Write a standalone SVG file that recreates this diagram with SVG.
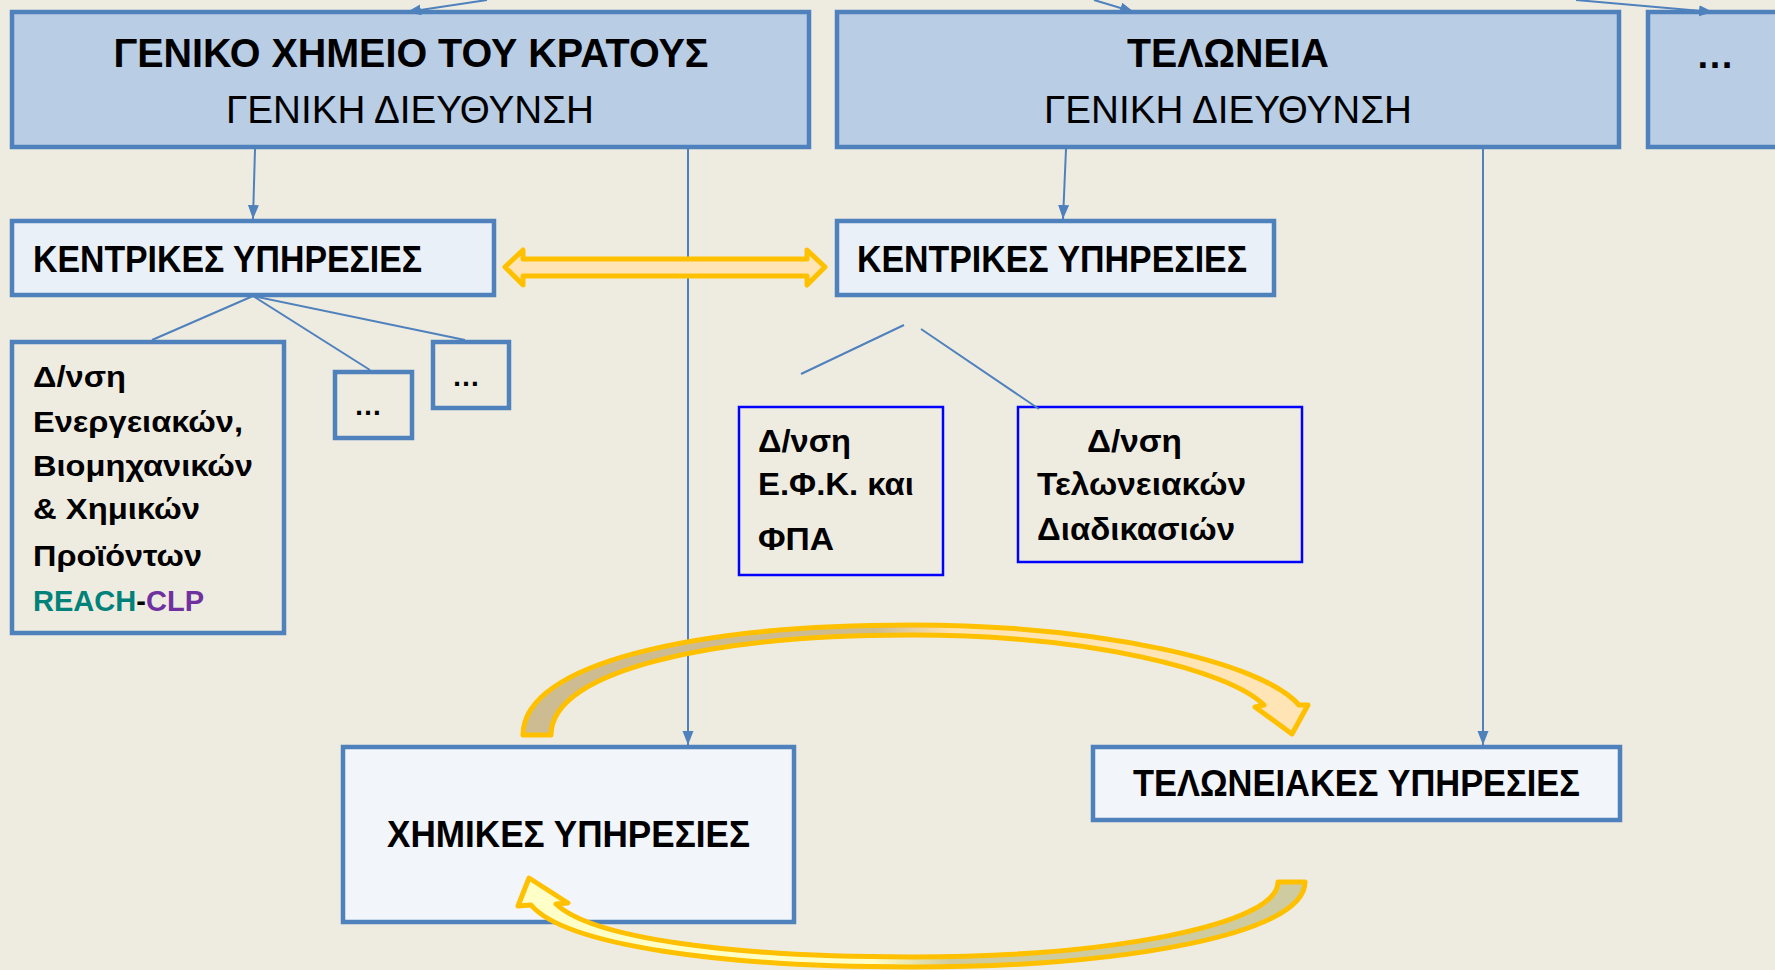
<svg xmlns="http://www.w3.org/2000/svg" width="1775" height="970" viewBox="0 0 1775 970">
<defs>
<style>
.bg{fill:#EEECE1}
.top{fill:#B9CDE5;stroke:#4F81BD;stroke-width:4.5}
.kent{fill:#EAF0F8;stroke:#4F81BD;stroke-width:4.5}
.plain{fill:#EEECE1;stroke:#4F81BD;stroke-width:4.5}
.sub{fill:#EEECE1;stroke:#0000FF;stroke-width:2.5}
.svc{fill:#F2F5FA;stroke:#4F81BD;stroke-width:4.5}
.t{font-family:"Liberation Sans",Arial,sans-serif;fill:#000}
.b{font-weight:bold}
.con{stroke:#4F81BD;stroke-width:2;fill:none}
.ya{stroke:#FFC000;stroke-width:5;stroke-linejoin:round}
</style>
<marker id="ah" markerUnits="userSpaceOnUse" markerWidth="15" markerHeight="12" refX="14" refY="5.5" orient="auto">
<path d="M0,0 L14,5.5 L0,11 z" fill="#4F81BD"/>
</marker>
<linearGradient id="gTop" x1="523" y1="0" x2="1308" y2="0" gradientUnits="userSpaceOnUse">
<stop offset="0" stop-color="#CDBB92"/>
<stop offset="0.45" stop-color="#CDBB92"/>
<stop offset="0.55" stop-color="#FFE4B5"/>
<stop offset="1" stop-color="#FFE4B5"/>
</linearGradient>
<linearGradient id="gBot" x1="518" y1="0" x2="1305" y2="0" gradientUnits="userSpaceOnUse">
<stop offset="0" stop-color="#FFFFC8"/>
<stop offset="0.45" stop-color="#FFFFC8"/>
<stop offset="0.55" stop-color="#CFCBA0"/>
<stop offset="1" stop-color="#CFCBA0"/>
</linearGradient>
</defs>
<rect class="bg" x="0" y="0" width="1775" height="970"/>

<g id="node-gxk">
<rect class="top" x="12" y="12" width="797" height="135"/>
<text class="t b" x="411" y="67" font-size="41" text-anchor="middle" textLength="595" lengthAdjust="spacingAndGlyphs">ΓΕΝΙΚΟ ΧΗΜΕΙΟ ΤΟΥ ΚΡΑΤΟΥΣ</text>
<text class="t" x="410" y="123" font-size="39" text-anchor="middle" textLength="368" lengthAdjust="spacingAndGlyphs">ΓΕΝΙΚΗ ΔΙΕΥΘΥΝΣΗ</text>
</g>
<g id="node-telonia">
<rect class="top" x="837" y="12" width="782" height="135"/>
<text class="t b" x="1228" y="67" font-size="41" text-anchor="middle" textLength="202" lengthAdjust="spacingAndGlyphs">ΤΕΛΩΝΕΙΑ</text>
<text class="t" x="1228" y="123" font-size="39" text-anchor="middle" textLength="368" lengthAdjust="spacingAndGlyphs">ΓΕΝΙΚΗ ΔΙΕΥΘΥΝΣΗ</text>
</g>
<g id="node-other">
<rect class="top" x="1648" y="12" width="140" height="135"/>
<text class="t b" x="1715" y="68" font-size="38" text-anchor="middle">…</text>
</g>
<g id="node-kent1">
<rect class="kent" x="12" y="221" width="482" height="74"/>
<text class="t b" x="33" y="272" font-size="36" textLength="389" lengthAdjust="spacingAndGlyphs">ΚΕΝΤΡΙΚΕΣ ΥΠΗΡΕΣΙΕΣ</text>
</g>
<g id="node-kent2">
<rect class="kent" x="837" y="221" width="437" height="74"/>
<text class="t b" x="857" y="272" font-size="36" textLength="390" lengthAdjust="spacingAndGlyphs">ΚΕΝΤΡΙΚΕΣ ΥΠΗΡΕΣΙΕΣ</text>
</g>
<g id="node-energy">
<rect class="plain" x="12" y="342" width="272" height="291"/>
<text class="t b" font-size="29" x="33" y="387" textLength="93" lengthAdjust="spacingAndGlyphs">Δ/νση</text>
<text class="t b" font-size="29" x="33" y="432" textLength="210" lengthAdjust="spacingAndGlyphs">Ενεργειακών,</text>
<text class="t b" font-size="29" x="33" y="476" textLength="220" lengthAdjust="spacingAndGlyphs">Βιομηχανικών</text>
<text class="t b" font-size="29" x="33" y="519" textLength="167" lengthAdjust="spacingAndGlyphs">&amp; Χημικών</text>
<text class="t b" font-size="29" x="33" y="566" textLength="169" lengthAdjust="spacingAndGlyphs">Προϊόντων</text>
<text class="t b" font-size="29" x="33" y="611" textLength="171" lengthAdjust="spacingAndGlyphs"><tspan fill="#00827A">REACH</tspan><tspan fill="#000">-</tspan><tspan fill="#7030A0">CLP</tspan></text>
</g>
<g id="node-dots1">
<rect class="plain" x="335" y="372" width="77" height="66"/>
<text class="t b" x="368" y="415" font-size="28" text-anchor="middle">…</text>
</g>
<g id="node-dots2">
<rect class="plain" x="433" y="342" width="76" height="66"/>
<text class="t b" x="466" y="386" font-size="28" text-anchor="middle">…</text>
</g>
<g id="node-efk">
<rect class="sub" x="739" y="407" width="204" height="168"/>
<text class="t b" font-size="32" x="758" y="452" textLength="93" lengthAdjust="spacingAndGlyphs">Δ/νση</text>
<text class="t b" font-size="32" x="758" y="495" textLength="156" lengthAdjust="spacingAndGlyphs">Ε.Φ.Κ. και</text>
<text class="t b" font-size="32" x="758" y="550" textLength="76" lengthAdjust="spacingAndGlyphs">ΦΠΑ</text>
</g>
<g id="node-telproc">
<rect class="sub" x="1018" y="407" width="284" height="155"/>
<text class="t b" font-size="32" x="1087" y="452" textLength="95" lengthAdjust="spacingAndGlyphs">Δ/νση</text>
<text class="t b" font-size="32" x="1037" y="495" textLength="209" lengthAdjust="spacingAndGlyphs">Τελωνειακών</text>
<text class="t b" font-size="32" x="1037" y="540" textLength="198" lengthAdjust="spacingAndGlyphs">Διαδικασιών</text>
</g>
<g id="node-chem">
<rect class="svc" x="343" y="747" width="451" height="175"/>
<text class="t b" x="387" y="847" font-size="36" textLength="363" lengthAdjust="spacingAndGlyphs">ΧΗΜΙΚΕΣ ΥΠΗΡΕΣΙΕΣ</text>
</g>
<g id="node-telsvc">
<rect class="svc" x="1093" y="747" width="527" height="73"/>
<text class="t b" x="1133" y="796" font-size="36" textLength="447" lengthAdjust="spacingAndGlyphs">ΤΕΛΩΝΕΙΑΚΕΣ ΥΠΗΡΕΣΙΕΣ</text>
</g>

<g id="connectors">
<line class="con" x1="487" y1="0" x2="407" y2="12" marker-end="url(#ah)"/>
<line class="con" x1="1094" y1="0" x2="1134" y2="12" marker-end="url(#ah)"/>
<line class="con" x1="1576" y1="0" x2="1713" y2="12" marker-end="url(#ah)"/>
<line class="con" x1="255" y1="149" x2="253" y2="219" marker-end="url(#ah)"/>
<line class="con" x1="1066" y1="149" x2="1063" y2="219" marker-end="url(#ah)"/>
<line class="con" x1="688" y1="149" x2="688" y2="745" marker-end="url(#ah)"/>
<line class="con" x1="1483" y1="149" x2="1483" y2="745" marker-end="url(#ah)"/>
<line class="con" x1="253" y1="296" x2="152" y2="340"/>
<line class="con" x1="253" y1="296" x2="370" y2="370"/>
<line class="con" x1="253" y1="296" x2="465" y2="340"/>
<line class="con" x1="904" y1="325" x2="801" y2="374"/>
<line class="con" x1="921" y1="329" x2="1039" y2="409"/>
<path class="ya" fill="#FFE4B5" d="M505,267 L523,250 L523,259 L807,259 L807,250 L825,267 L807,285 L807,276 L523,276 L523,285 Z"/>
<path class="ya" fill="url(#gTop)" d="M523,735 C523,662 700,625 911,625 C1100,625 1262,662 1299,705 L1308,705 L1292,734 L1255,707 L1264,705 C1228,670 1090,635 911,635 C722,635 551,668 551,735 Z"/>
<path class="ya" fill="url(#gBot)" d="M1305,882 C1305,935 1120,967 911,967 C720,967 565,945 531,905 L518,906 L529,878 L568,903 L556,904 C592,938 730,957 911,957 C1110,957 1278,925 1278,882 Z"/>
</g>
</svg>
